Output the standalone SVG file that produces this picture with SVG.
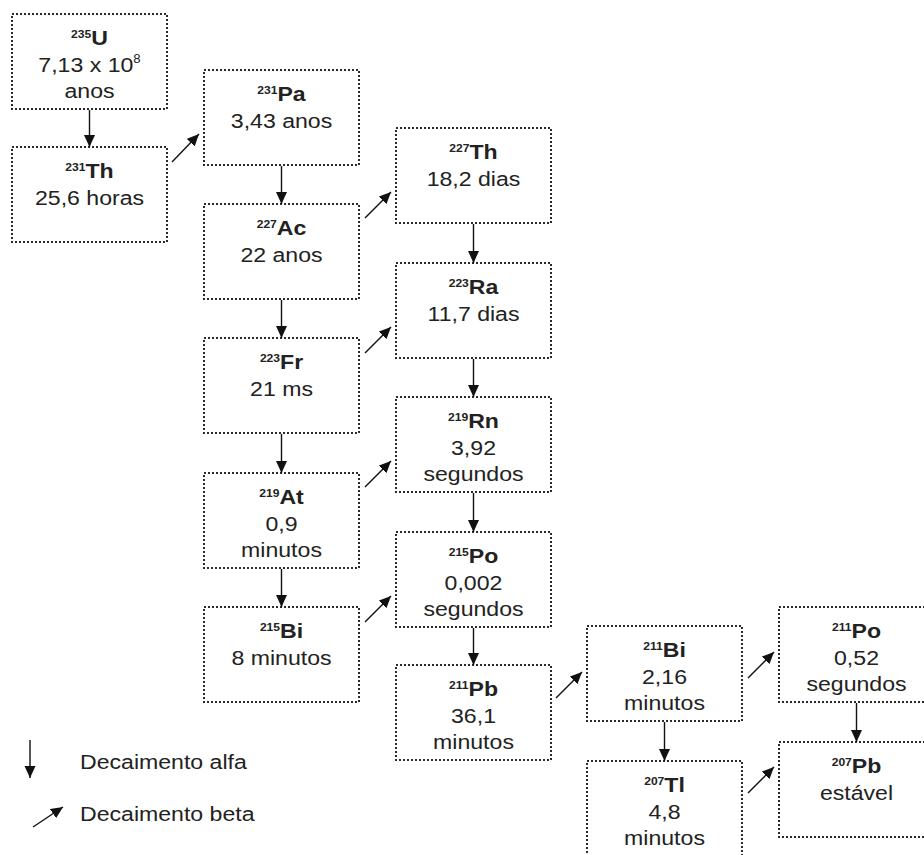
<svg xmlns="http://www.w3.org/2000/svg" width="924" height="855" viewBox="0 0 924 855">
<style>
.box{fill:#fff;stroke:#2a2a2a;stroke-width:2;stroke-dasharray:2 2}
.t text{font-family:"Liberation Sans",Arial,Helvetica,sans-serif;font-size:21px;fill:#222;text-anchor:middle}
.sym{font-weight:bold}
.sup{font-weight:bold;font-size:11px}
.e{font-size:12px}
.arr{stroke:#111;stroke-width:1.4;fill:none;marker-end:url(#ah)}
.leg{font-family:"Liberation Sans",Arial,Helvetica,sans-serif;font-size:21px;fill:#222}
</style>
<defs>
<marker id="ah" markerUnits="userSpaceOnUse" markerWidth="13" markerHeight="12" refX="12" refY="5.5" orient="auto">
<path d="M0,0 L12,5.5 L0,11 Z" fill="#111"/>
</marker>
</defs>
<rect width="924" height="855" fill="#fff"/>

<g id="U235"><rect class="box" x="12" y="14" width="155" height="95"/>
<g class="t" transform="translate(89.5 14) scale(1.1 1)"><text y="31"><tspan class="sup" dy="-7">235</tspan><tspan class="sym" dy="7">U</tspan></text><text y="58">7,13 x 10<tspan class="e" dy="-9">8</tspan></text><text y="84">anos</text></g></g>

<g id="Th231"><rect class="box" x="12" y="147" width="155" height="95"/>
<g class="t" transform="translate(89.5 147) scale(1.1 1)"><text y="31"><tspan class="sup" dy="-7">231</tspan><tspan class="sym" dy="7">Th</tspan></text><text y="58">25,6 horas</text></g></g>

<g id="Pa231"><rect class="box" x="204" y="70" width="155" height="95"/>
<g class="t" transform="translate(281.5 70) scale(1.1 1)"><text y="31"><tspan class="sup" dy="-7">231</tspan><tspan class="sym" dy="7">Pa</tspan></text><text y="58">3,43 anos</text></g></g>

<g id="Ac227"><rect class="box" x="204" y="204" width="155" height="95"/>
<g class="t" transform="translate(281.5 204) scale(1.1 1)"><text y="31"><tspan class="sup" dy="-7">227</tspan><tspan class="sym" dy="7">Ac</tspan></text><text y="58">22 anos</text></g></g>

<g id="Fr223"><rect class="box" x="204" y="338" width="155" height="95"/>
<g class="t" transform="translate(281.5 338) scale(1.1 1)"><text y="31"><tspan class="sup" dy="-7">223</tspan><tspan class="sym" dy="7">Fr</tspan></text><text y="58">21 ms</text></g></g>

<g id="At219"><rect class="box" x="204" y="473" width="155" height="95"/>
<g class="t" transform="translate(281.5 473) scale(1.1 1)"><text y="31"><tspan class="sup" dy="-7">219</tspan><tspan class="sym" dy="7">At</tspan></text><text y="58">0,9</text><text y="84">minutos</text></g></g>

<g id="Bi215"><rect class="box" x="204" y="607" width="155" height="95"/>
<g class="t" transform="translate(281.5 607) scale(1.1 1)"><text y="31"><tspan class="sup" dy="-7">215</tspan><tspan class="sym" dy="7">Bi</tspan></text><text y="58">8 minutos</text></g></g>

<g id="Th227"><rect class="box" x="396" y="128" width="155" height="95"/>
<g class="t" transform="translate(473.5 128) scale(1.1 1)"><text y="31"><tspan class="sup" dy="-7">227</tspan><tspan class="sym" dy="7">Th</tspan></text><text y="58">18,2 dias</text></g></g>

<g id="Ra223"><rect class="box" x="396" y="263" width="155" height="95"/>
<g class="t" transform="translate(473.5 263) scale(1.1 1)"><text y="31"><tspan class="sup" dy="-7">223</tspan><tspan class="sym" dy="7">Ra</tspan></text><text y="58">11,7 dias</text></g></g>

<g id="Rn219"><rect class="box" x="396" y="397" width="155" height="95"/>
<g class="t" transform="translate(473.5 397) scale(1.1 1)"><text y="31"><tspan class="sup" dy="-7">219</tspan><tspan class="sym" dy="7">Rn</tspan></text><text y="58">3,92</text><text y="84">segundos</text></g></g>

<g id="Po215"><rect class="box" x="396" y="532" width="155" height="95"/>
<g class="t" transform="translate(473.5 532) scale(1.1 1)"><text y="31"><tspan class="sup" dy="-7">215</tspan><tspan class="sym" dy="7">Po</tspan></text><text y="58">0,002</text><text y="84">segundos</text></g></g>

<g id="Pb211"><rect class="box" x="396" y="665" width="155" height="95"/>
<g class="t" transform="translate(473.5 665) scale(1.1 1)"><text y="31"><tspan class="sup" dy="-7">211</tspan><tspan class="sym" dy="7">Pb</tspan></text><text y="58">36,1</text><text y="84">minutos</text></g></g>

<g id="Bi211"><rect class="box" x="587" y="626" width="155" height="95"/>
<g class="t" transform="translate(664.5 626) scale(1.1 1)"><text y="31"><tspan class="sup" dy="-7">211</tspan><tspan class="sym" dy="7">Bi</tspan></text><text y="58">2,16</text><text y="84">minutos</text></g></g>

<g id="Tl207"><rect class="box" x="587" y="761" width="155" height="95"/>
<g class="t" transform="translate(664.5 761) scale(1.1 1)"><text y="31"><tspan class="sup" dy="-7">207</tspan><tspan class="sym" dy="7">Tl</tspan></text><text y="58">4,8</text><text y="84">minutos</text></g></g>

<g id="Po211"><rect class="box" x="779" y="607" width="155" height="95"/>
<g class="t" transform="translate(856.5 607) scale(1.1 1)"><text y="31"><tspan class="sup" dy="-7">211</tspan><tspan class="sym" dy="7">Po</tspan></text><text y="58">0,52</text><text y="84">segundos</text></g></g>

<g id="Pb207"><rect class="box" x="779" y="742" width="155" height="95"/>
<g class="t" transform="translate(856.5 742) scale(1.1 1)"><text y="31"><tspan class="sup" dy="-7">207</tspan><tspan class="sym" dy="7">Pb</tspan></text><text y="58">estável</text></g></g>

<g id="connectors">
<line class="arr" x1="89.5" y1="110" x2="89.5" y2="147"/>
<line class="arr" x1="281.5" y1="166" x2="281.5" y2="204"/>
<line class="arr" x1="281.5" y1="300" x2="281.5" y2="338"/>
<line class="arr" x1="281.5" y1="434" x2="281.5" y2="473"/>
<line class="arr" x1="281.5" y1="569" x2="281.5" y2="607"/>
<line class="arr" x1="473.5" y1="224" x2="473.5" y2="263"/>
<line class="arr" x1="473.5" y1="359" x2="473.5" y2="397"/>
<line class="arr" x1="473.5" y1="493" x2="473.5" y2="532"/>
<line class="arr" x1="473.5" y1="628" x2="473.5" y2="665"/>
<line class="arr" x1="664.5" y1="722" x2="664.5" y2="761"/>
<line class="arr" x1="856.5" y1="703" x2="856.5" y2="742"/>
<line class="arr" x1="172" y1="162" x2="199" y2="134"/>
<line class="arr" x1="365" y1="218" x2="391" y2="192"/>
<line class="arr" x1="365" y1="353" x2="391" y2="327"/>
<line class="arr" x1="365" y1="487" x2="391" y2="461"/>
<line class="arr" x1="365" y1="622" x2="391" y2="596"/>
<line class="arr" x1="556" y1="698" x2="582" y2="672"/>
<line class="arr" x1="748" y1="678" x2="774" y2="652"/>
<line class="arr" x1="748" y1="793" x2="774" y2="767"/>
</g>

<g id="legend">
<line class="arr" x1="30" y1="740" x2="30" y2="778"/>
<text class="leg" x="80" y="769" transform="translate(80 0) scale(1.1 1) translate(-80 0)">Decaimento alfa</text>
<line class="arr" x1="33" y1="827" x2="63" y2="807"/>
<text class="leg" x="80" y="821" transform="translate(80 0) scale(1.1 1) translate(-80 0)">Decaimento beta</text>
</g>
</svg>
